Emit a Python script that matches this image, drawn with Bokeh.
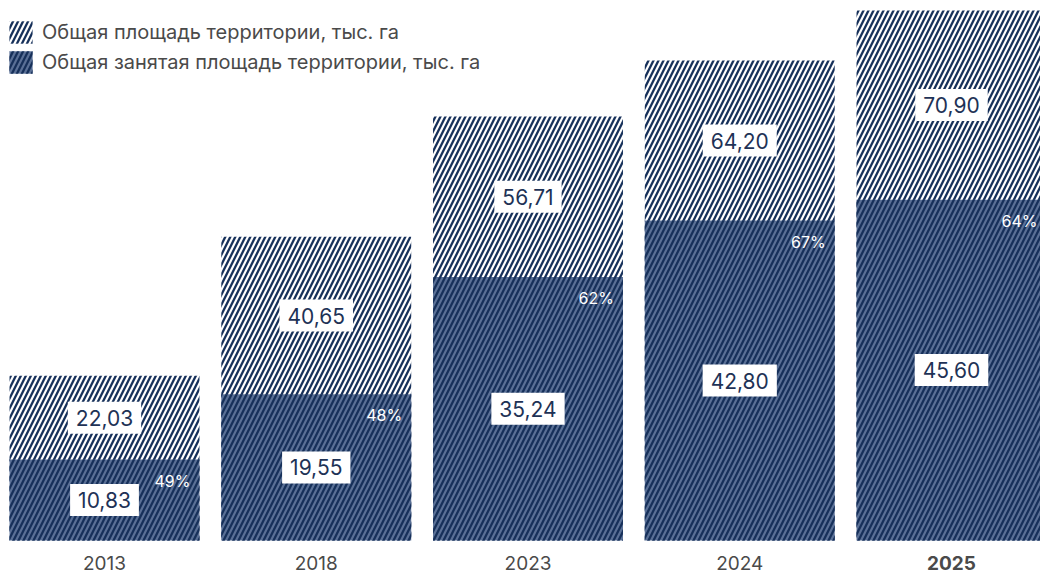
from bokeh.plotting import figure
from bokeh.models import ColumnDataSource, Legend, LegendItem, Range1d
from bokeh.core.properties import value
from bokeh.embed import file_html
from bokeh.resources import INLINE

# ---- data ----
years = ["2013", "2018", "2023", "2024", "2025"]
total = [22.03, 40.65, 56.71, 64.20, 70.90]
occupied = [10.83, 19.55, 35.24, 42.80, 45.60]
shares = ["49%", "48%", "62%", "67%", "64%"]
series_names = ["Общая площадь территории, тыс. га",
                "Общая занятая площадь территории, тыс. га"]

NAVY = "#16305a"
SLATE = "#5a7096"
TEXT_NAVY = "#1e3256"
GREY = "#4a4a4a"
FONT = "Inter"
BAR_W = 0.897
PX_X = 211.75   # px per category
PX_Y = 7.475    # px per unit

xs = list(range(len(years)))


def fmt(v):
    return f"{v:.2f}".replace(".", ",")


src = ColumnDataSource(dict(
    x=xs,
    total=total,
    occ=occupied,
    total_mid=[(t + o) / 2 for t, o in zip(total, occupied)],
    occ_mid=[o / 2 for o in occupied],
    total_lbl=[fmt(v) for v in total],
    occ_lbl=[fmt(v) for v in occupied],
    share=shares,
    share_x=[x + BAR_W / 2 - 9 / PX_X for x in xs],
    share_y=[o - 21 / PX_Y for o in occupied],
    year=years,
    year_y=[-22 / PX_Y] * len(years),
    year_style=["bold" if y == "2025" else "normal" for y in years],
))

W, H = 1040, 574
x0 = -104 / PX_X
y1 = 540 / PX_Y
p = figure(width=W, height=H,
           x_range=Range1d(x0, x0 + W / PX_X),
           y_range=Range1d(y1 - H / PX_Y, y1),
           output_backend="svg", toolbar_location=None,
           x_axis_type=None, y_axis_type=None, min_border=0,
           outline_line_color=None)
p.grid.visible = False

HATCH = dict(hatch_pattern="/", hatch_color=NAVY, hatch_scale=10, hatch_weight=2.3)
r_total = p.vbar(x="x", top="total", width=BAR_W, source=src,
                 fill_color="white", line_color=None, **HATCH)
r_occ = p.vbar(x="x", top="occ", width=BAR_W, source=src,
               fill_color=SLATE, line_color=None, **HATCH)

for ycol, tcol in (("total_mid", "total_lbl"), ("occ_mid", "occ_lbl")):
    p.text(x="x", y=ycol, text=tcol, source=src,
           text_font=value(FONT), text_font_size="21px", text_color=TEXT_NAVY,
           text_align="center", text_baseline="middle",
           background_fill_color="white", padding=8)

p.text(x="share_x", y="share_y", text="share", source=src,
       text_font=value(FONT), text_font_size="16px", text_color="white",
       text_align="right", text_baseline="middle")

p.text(x="x", y="year_y", text="year", source=src,
       text_font=value(FONT), text_font_size="19px", text_color=GREY,
       text_font_style="year_style",
       text_align="center", text_baseline="middle")

legend = Legend(items=[LegendItem(label=series_names[0], renderers=[r_total]),
                       LegendItem(label=series_names[1], renderers=[r_occ])],
                location=(6, H - 18 - 58), orientation="vertical",
                glyph_width=29, glyph_height=28, label_height=28,
                label_standoff=7, spacing=2, padding=0, margin=0,
                border_line_alpha=0, background_fill_alpha=0,
                label_text_font=FONT, label_text_font_size="20px",
                label_text_color=GREY, label_text_baseline="middle")
p.add_layout(legend)

open("out.html", "w").write(file_html(p, INLINE))
